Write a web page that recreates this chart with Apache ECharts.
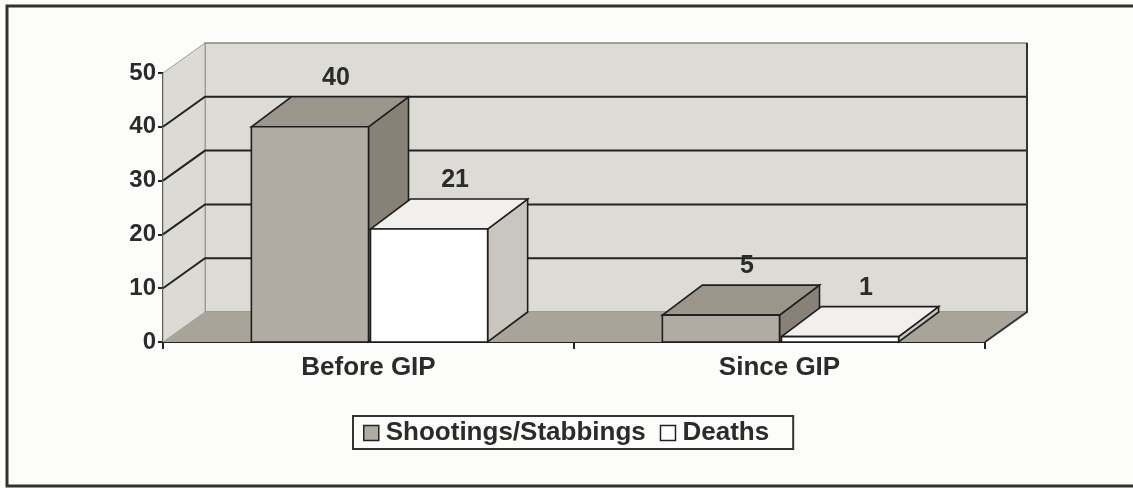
<!DOCTYPE html>
<html>
<head>
<meta charset="utf-8">
<script src="https://cdn.jsdelivr.net/npm/echarts@6/dist/echarts.min.js"></script>
<style>
  html, body { margin: 0; padding: 0; background: #fcfcfa; }
  #chart { width: 1133px; height: 488px; }
</style>
</head>
<body>
<div id="chart"></div>
<script>
// chart values
const categories = ['Before GIP', 'Since GIP'];
const shootings = [40, 5];
const deaths = [21, 1];
const yTicks = [0, 10, 20, 30, 40, 50];

// fake 3d depth (pixels)
const WALL_DX = 42, WALL_DY = -30;
const BAR_DX = 40, BAR_DY = -30;
const FONT = '"Liberation Sans", Arial, sans-serif';

// floor, left wall, back wall with its grid lines
function renderWalls (params, api) {
  const cs = params.coordSys;
  const L = cs.x, R = cs.x + cs.width;
  const B = api.coord([0, 0])[1];
  const T = api.coord([0, yTicks[yTicks.length - 1]])[1];
  const children = [];
  // back wall
  children.push({
    type: 'polygon',
    shape: { points: [[L + WALL_DX, T + WALL_DY], [R + WALL_DX, T + WALL_DY], [R + WALL_DX, B + WALL_DY], [L + WALL_DX, B + WALL_DY]] },
    style: { fill: '#dddbd6', stroke: '#8a8780', lineWidth: 1.5 }
  });
  // left wall
  children.push({
    type: 'polygon',
    shape: { points: [[L, B], [L, T], [L + WALL_DX, T + WALL_DY], [L + WALL_DX, B + WALL_DY]] },
    style: { fill: '#dcdad5', stroke: '#a09d96', lineWidth: 1 }
  });
  // grid lines on back wall and the diagonals on the side wall
  yTicks.forEach(function (v) {
    if (v === 0 || v === yTicks[yTicks.length - 1]) return;
    const y = api.coord([0, v])[1];
    children.push({
      type: 'polyline',
      shape: { points: [[L, y], [L + WALL_DX, y + WALL_DY], [R + WALL_DX, y + WALL_DY]] },
      style: { fill: null, stroke: '#232323', lineWidth: 2 }
    });
  });
  // floor
  children.push({
    type: 'polygon',
    shape: { points: [[L, B], [L + WALL_DX, B + WALL_DY], [R + WALL_DX, B + WALL_DY], [R, B]] },
    style: { fill: '#a9a499', stroke: null }
  });
  children.push({
    type: 'polyline',
    shape: { points: [[R, B], [R + WALL_DX, B + WALL_DY], [R + WALL_DX, T + WALL_DY]] },
    style: { fill: null, stroke: '#333', lineWidth: 2 }
  });
  return { type: 'group', children: children };
}

function barRenderer (side, colors) {
  return function (params, api) {
    const cat = api.value(0);
    const val = api.value(1);
    const base = api.coord([cat, 0]);
    const top = api.coord([cat, val]);
    const w = api.size([1, 0])[0] * 0.285;
    const x0 = side < 0 ? base[0] - w : base[0] + 2;
    const x1 = x0 + w;
    const y0 = base[1], y1 = top[1];
    const line = { stroke: '#1e1e1e', lineWidth: 1.6 };
    return {
      type: 'group',
      children: [
        {
          type: 'polygon',
          shape: { points: [[x1, y1], [x1 + BAR_DX, y1 + BAR_DY], [x1 + BAR_DX, y0 + BAR_DY], [x1, y0]] },
          style: Object.assign({ fill: colors.side }, line)
        },
        {
          type: 'polygon',
          shape: { points: [[x0, y1], [x0 + BAR_DX, y1 + BAR_DY], [x1 + BAR_DX, y1 + BAR_DY], [x1, y1]] },
          style: Object.assign({ fill: colors.top }, line)
        },
        {
          type: 'rect',
          shape: { x: x0, y: y1, width: w, height: y0 - y1 },
          style: Object.assign({ fill: colors.front }, line)
        },
        {
          type: 'text',
          style: {
            x: (x0 + x1) / 2 + 26,
            y: y1 + BAR_DY - 19,
            text: String(val),
            fill: '#2b2b2b',
            font: 'bold 25px ' + FONT,
            align: 'center',
            verticalAlign: 'middle'
          }
        }
      ]
    };
  };
}

const chart = echarts.init(document.getElementById('chart'));
chart.setOption({
  backgroundColor: '#fcfcfa',
  animation: false,
  graphic: [{
    type: 'rect',
    shape: { x: 7, y: 6, width: 1160, height: 480 },
    style: { fill: 'none', stroke: '#343230', lineWidth: 3 },
    z: 100
  }],
  legend: {
    data: ['Shootings/Stabbings', 'Deaths'],
    left: 353,
    top: 416,
    orient: 'horizontal',
    icon: 'rect',
    itemWidth: 15,
    itemHeight: 15,
    itemGap: 14,
    padding: [4, 24, 3, 10],
    borderColor: '#333',
    borderWidth: 2,
    itemStyle: { borderColor: '#222', borderWidth: 1.5 },
    textStyle: { fontFamily: FONT, fontWeight: 'bold', fontSize: 26, color: '#2b2b2b', padding: [2, 0, 0, 2] }
  },
  grid: { left: 163, right: 148, top: 73, bottom: 146 },
  xAxis: {
    type: 'category',
    data: categories,
    axisLine: { lineStyle: { color: '#222', width: 2 } },
    axisTick: { show: true, length: 7, lineStyle: { color: '#222', width: 2 } },
    axisLabel: { margin: 13, fontFamily: FONT, fontWeight: 'bold', fontSize: 26, color: '#2b2b2b' },
    splitLine: { show: false }
  },
  yAxis: {
    type: 'value',
    min: yTicks[0],
    max: yTicks[yTicks.length - 1],
    interval: 10,
    axisLine: { show: true, lineStyle: { color: '#222', width: 2 } },
    axisTick: { show: true, length: 5, lineStyle: { color: '#222', width: 2 } },
    axisLabel: { margin: 7, fontFamily: FONT, fontWeight: 'bold', fontSize: 24, color: '#2b2b2b' },
    splitLine: { show: false }
  },
  series: [
    {
      name: 'walls',
      type: 'custom',
      silent: true,
      renderItem: renderWalls,
      data: [[0, 0]],
      z: 1
    },
    {
      name: 'Shootings/Stabbings',
      type: 'custom',
      renderItem: barRenderer(-1, { front: '#b1aca3', top: '#9b958b', side: '#878177' }),
      itemStyle: { color: '#b1aca3' },
      encode: { x: 0, y: 1 },
      data: shootings.map(function (v, i) { return [i, v]; }),
      z: 2
    },
    {
      name: 'Deaths',
      type: 'custom',
      renderItem: barRenderer(1, { front: '#ffffff', top: '#f1f0ec', side: '#c9c6bf' }),
      itemStyle: { color: '#ffffff' },
      encode: { x: 0, y: 1 },
      data: deaths.map(function (v, i) { return [i, v]; }),
      z: 3
    }
  ]
});
</script>
</body>
</html>
